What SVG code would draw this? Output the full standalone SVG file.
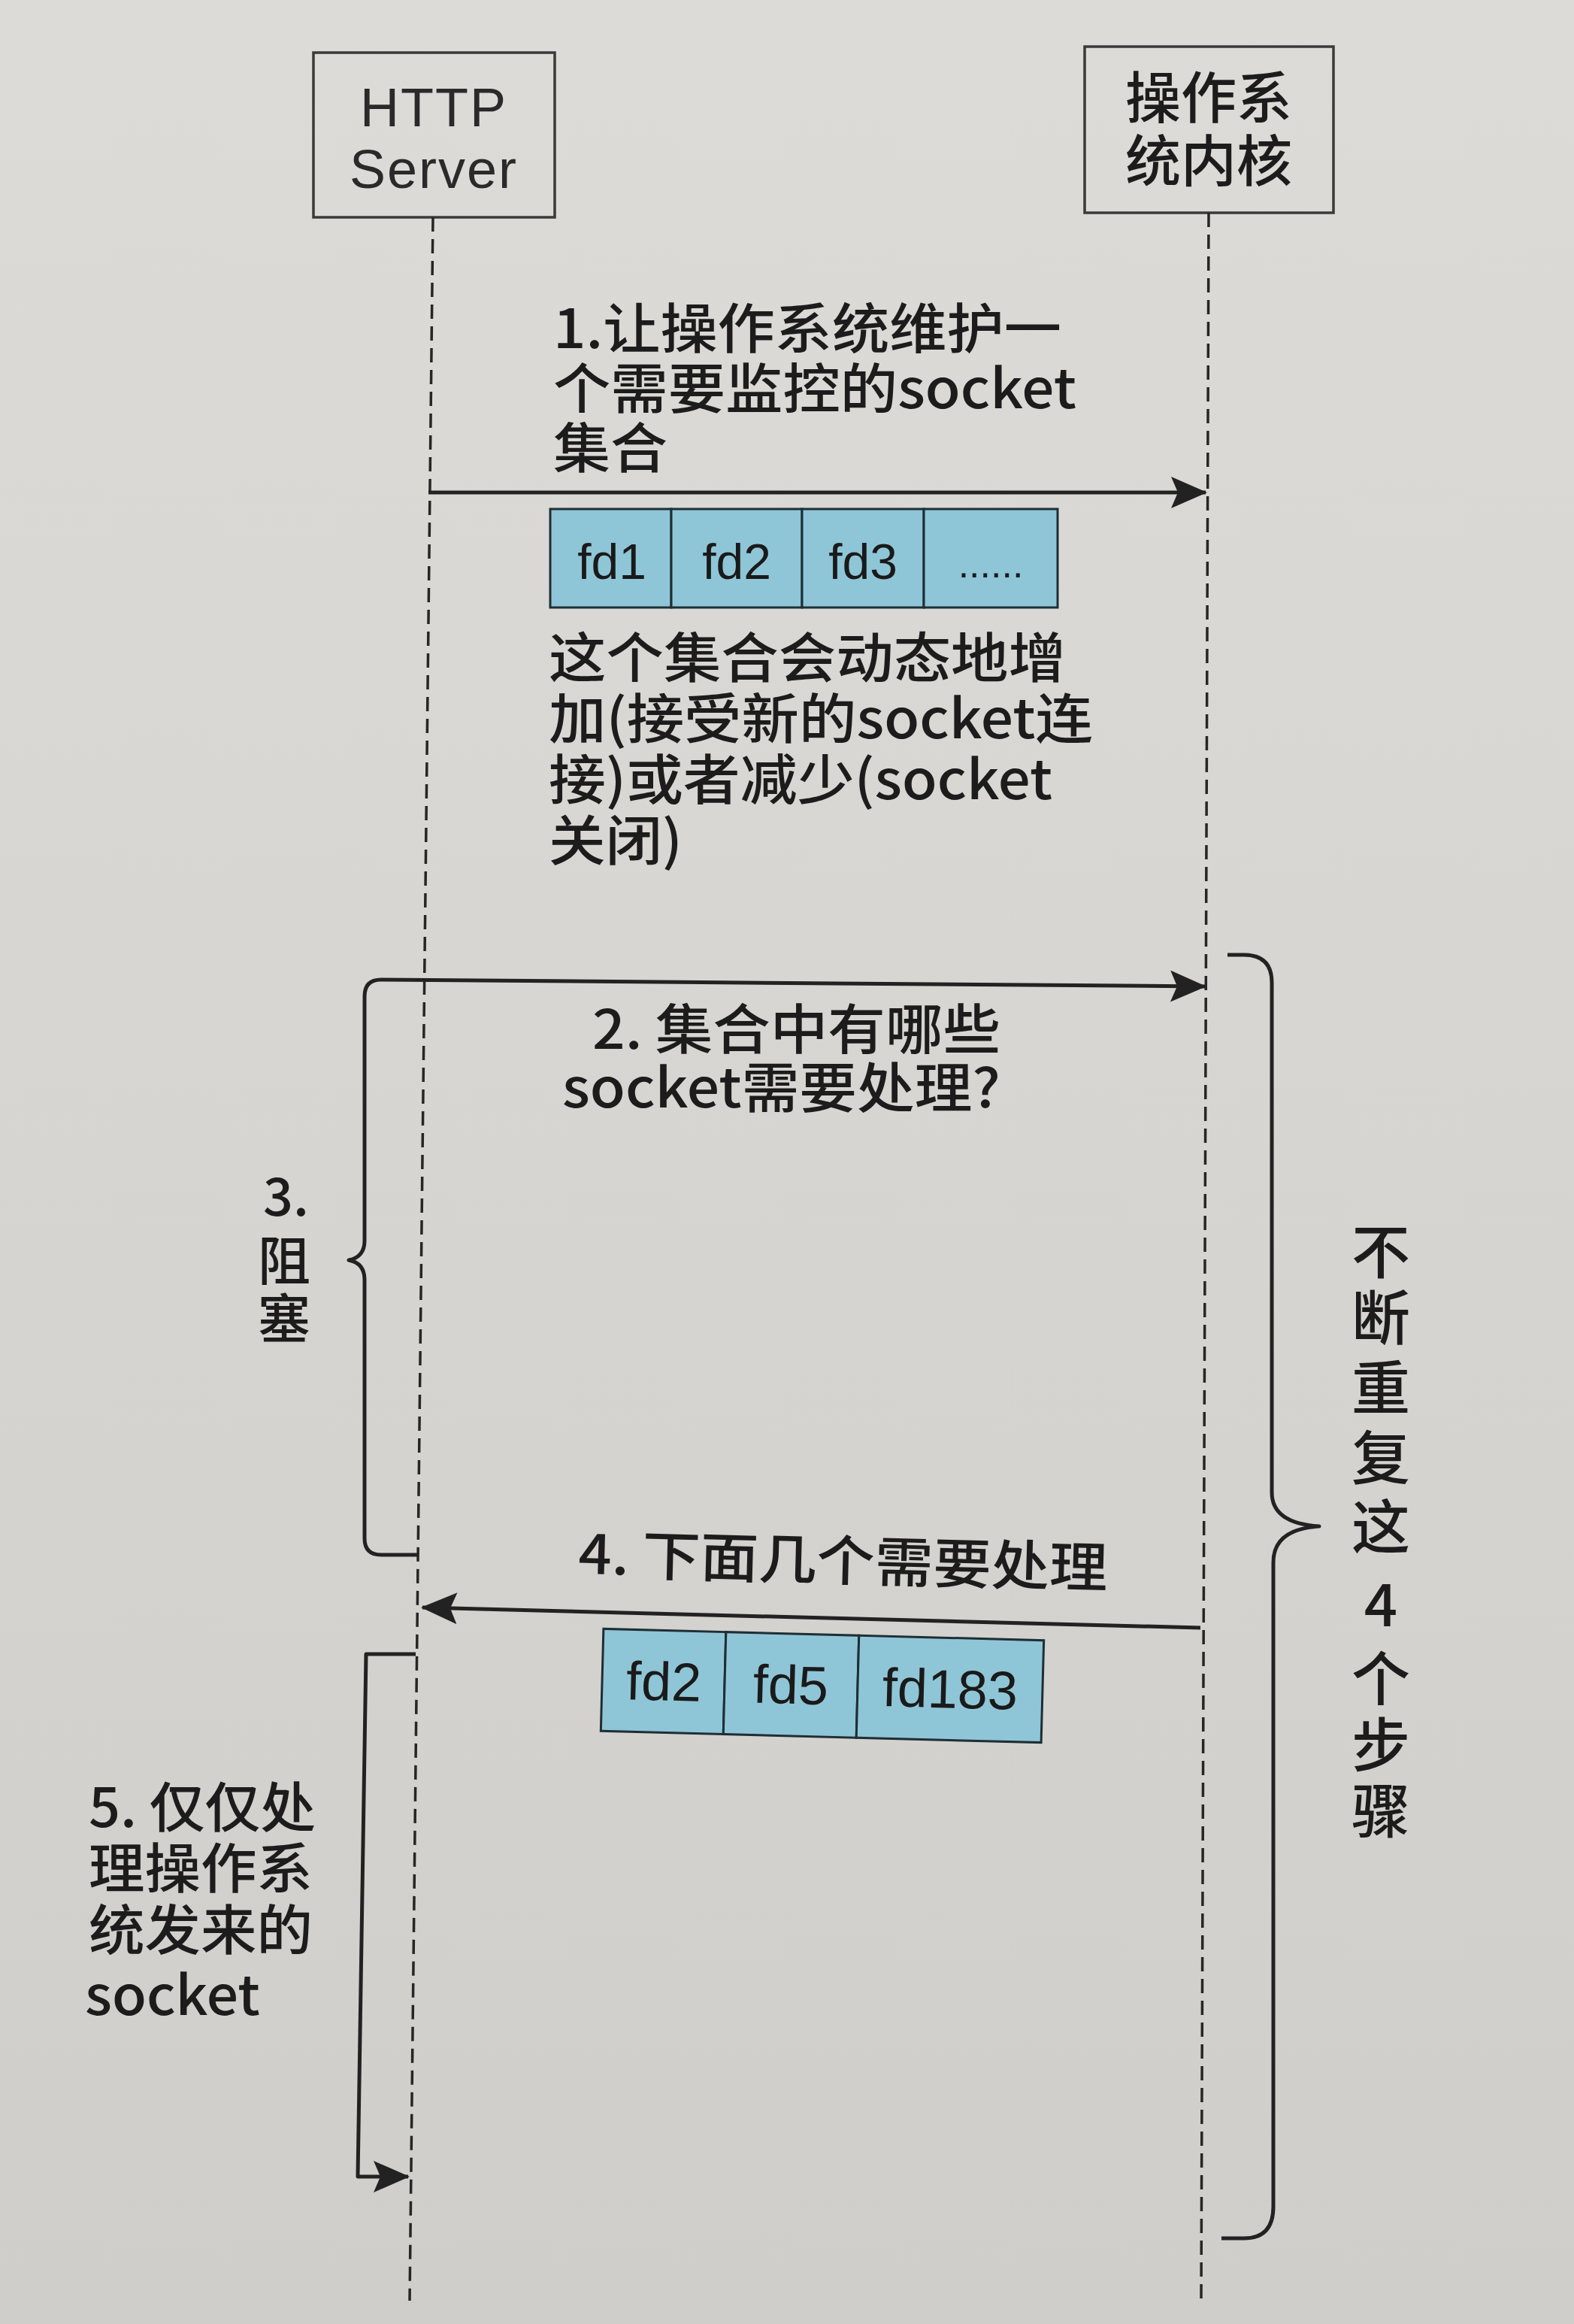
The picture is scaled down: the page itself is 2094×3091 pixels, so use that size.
<svg xmlns="http://www.w3.org/2000/svg" width="2094" height="3091" viewBox="0 0 2094 3091">
  <defs>
    <linearGradient id="paper" x1="0" y1="0" x2="0" y2="1">
      <stop offset="0" stop-color="#dcdbd7"/>
      <stop offset="0.5" stop-color="#d6d5d1"/>
      <stop offset="1" stop-color="#cfcecb"/>
    </linearGradient>
    <marker id="arrow" viewBox="0 0 48 42" refX="46" refY="21" markerWidth="48" markerHeight="42" markerUnits="userSpaceOnUse" orient="auto">
      <path d="M0,0 L48,21 L0,42 L9,21 Z" fill="#222"/>
    </marker>
    <style>
      .box { fill: none; stroke: #3a3a3a; stroke-width: 3.5; }
      .life { fill: none; stroke: #262626; stroke-width: 3.5; stroke-dasharray: 19 10; }
      .line { fill: none; stroke: #222; stroke-width: 5; stroke-linejoin: round; stroke-linecap: butt; }
      .cell { fill: #8fc6d7; stroke: #1f2e35; stroke-width: 3; }
      .lat { font-family: "Liberation Sans", Arial, sans-serif; fill: #2a2a2a; }
      .fd { font-family: "Liberation Sans", Arial, sans-serif; fill: #1a1a1a; text-anchor: middle; }
      .cn { font-family: "Noto Sans CJK SC", "Noto Sans", sans-serif; font-weight: 500; fill: #1c1c1c; }
    </style>
  </defs>

  <!-- page -->
  <rect x="0" y="0" width="2094" height="3091" fill="url(#paper)"/>

  <!-- participants -->
  <g id="http-server">
    <rect class="box" x="417" y="70" width="321" height="219"/>
    <text class="lat" x="577" y="168" font-size="72" letter-spacing="2" text-anchor="middle">HTTP</text>
    <text class="lat" x="577" y="250" font-size="72" letter-spacing="2" text-anchor="middle">Server</text>
  </g>
  <g id="os-kernel">
    <rect class="box" x="1443" y="62" width="331" height="221"/>
    <text class="cn" x="1608" y="157" font-size="74" text-anchor="middle" font-weight="400">操作系</text>
    <text class="cn" x="1608" y="241" font-size="74" text-anchor="middle" font-weight="400">统内核</text>
  </g>

  <!-- lifelines -->
  <g id="lifelines">
    <line class="life" x1="576" y1="289" x2="545" y2="3060"/>
    <line class="life" x1="1608" y1="283" x2="1598" y2="3060"/>
  </g>

  <!-- messages and brackets -->
  <g id="connectors">
    <!-- 1: register socket set -->
    <path class="line" d="M570,655 H1604" marker-end="url(#arrow)"/>
    <!-- 2 + 3: query, with blocking brace on the left -->
    <path class="line" d="M556,2068 H507 Q485,2068 485,2046 V1702 Q485,1680 464,1676 Q485,1672 485,1650 V1325 Q485,1303 507,1303 L1603,1312" marker-end="url(#arrow)"/>
    <!-- 4: ready list returned -->
    <path class="line" d="M1597,2165 L562,2138" marker-end="url(#arrow)"/>
    <!-- 5: handle only the returned sockets -->
    <path class="line" d="M553,2200 H487 L476,2895 H543" marker-end="url(#arrow)"/>
    <!-- repeat brace on the right -->
    <path class="line" d="M1633,1270 H1655 Q1692,1270 1692,1307 V1985 Q1692,2026 1755,2030 Q1694,2034 1694,2078 V2935 Q1694,2977 1655,2977 H1625"/>
  </g>

  <!-- step 1 label -->
  <g id="step1">
    <text class="cn" x="736" y="463" font-size="72" textLength="676" lengthAdjust="spacingAndGlyphs">1.让操作系统维护一</text>
    <text class="cn" x="736" y="543" font-size="72" textLength="696" lengthAdjust="spacingAndGlyphs">个需要监控的socket</text>
    <text class="cn" x="736" y="622" font-size="72" textLength="152" lengthAdjust="spacingAndGlyphs">集合</text>
  </g>

  <!-- monitored set -->
  <g id="set-all">
    <rect class="cell" x="732" y="677" width="161" height="131"/>
    <rect class="cell" x="893" y="677" width="174" height="131"/>
    <rect class="cell" x="1067" y="677" width="162" height="131"/>
    <rect class="cell" x="1229" y="677" width="178" height="131"/>
    <text class="fd" x="814" y="770" font-size="66">fd1</text>
    <text class="fd" x="980" y="770" font-size="66">fd2</text>
    <text class="fd" x="1148" y="770" font-size="66">fd3</text>
    <text class="fd" x="1318" y="768" font-size="52">......</text>
  </g>

  <!-- set note -->
  <g id="set-note">
    <text class="cn" x="730" y="901" font-size="72" textLength="688" lengthAdjust="spacingAndGlyphs">这个集合会动态地增</text>
    <text class="cn" x="730" y="982" font-size="72" textLength="724" lengthAdjust="spacingAndGlyphs">加(接受新的socket连</text>
    <text class="cn" x="730" y="1063" font-size="72" textLength="670" lengthAdjust="spacingAndGlyphs">接)或者减少(socket</text>
    <text class="cn" x="730" y="1144" font-size="72" textLength="178" lengthAdjust="spacingAndGlyphs">关闭)</text>
  </g>

  <!-- step 2 label -->
  <g id="step2">
    <text class="cn" x="788" y="1395" font-size="72" textLength="543" lengthAdjust="spacingAndGlyphs">2. 集合中有哪些</text>
    <text class="cn" x="748" y="1473" font-size="72" textLength="583" lengthAdjust="spacingAndGlyphs">socket需要处理?</text>
  </g>

  <!-- step 3 label -->
  <g id="step3">
    <text class="cn" x="350" y="1617" font-size="70">3.</text>
    <text class="cn" x="378" y="1703" font-size="70" text-anchor="middle">阻</text>
    <text class="cn" x="378" y="1780" font-size="70" text-anchor="middle">塞</text>
  </g>

  <!-- step 4 label -->
  <g id="step4" transform="rotate(1.5 1120 2100)">
    <text class="cn" x="769" y="2102" font-size="72" textLength="704" lengthAdjust="spacingAndGlyphs">4. 下面几个需要处理</text>
  </g>

  <!-- ready set -->
  <g id="set-ready" transform="rotate(1.5 1094 2242)">
    <rect class="cell" x="801" y="2174" width="163" height="136"/>
    <rect class="cell" x="964" y="2174" width="177" height="136"/>
    <rect class="cell" x="1141" y="2174" width="246" height="136"/>
    <text class="fd" x="883" y="2267" font-size="72">fd2</text>
    <text class="fd" x="1052" y="2267" font-size="72">fd5</text>
    <text class="fd" x="1264" y="2267" font-size="72">fd183</text>
  </g>

  <!-- step 5 label -->
  <g id="step5">
    <text class="cn" x="118" y="2430" font-size="72" textLength="302" lengthAdjust="spacingAndGlyphs">5. 仅仅处</text>
    <text class="cn" x="118" y="2511" font-size="72" textLength="298" lengthAdjust="spacingAndGlyphs">理操作系</text>
    <text class="cn" x="118" y="2593" font-size="72" textLength="298" lengthAdjust="spacingAndGlyphs">统发来的</text>
    <text class="cn" x="113" y="2680" font-size="72" textLength="233" lengthAdjust="spacingAndGlyphs">socket</text>
  </g>

  <!-- repeat label, set vertically -->
  <g id="repeat-note">
    <text class="cn" x="1837" y="1694" font-size="78" text-anchor="middle">不</text>
    <text class="cn" x="1837" y="1782" font-size="78" text-anchor="middle">断</text>
    <text class="cn" x="1837" y="1875" font-size="78" text-anchor="middle">重</text>
    <text class="cn" x="1837" y="1968" font-size="78" text-anchor="middle">复</text>
    <text class="cn" x="1837" y="2060" font-size="78" text-anchor="middle">这</text>
    <text class="cn" x="1837" y="2163" font-size="78" text-anchor="middle">4</text>
    <text class="cn" x="1837" y="2262" font-size="78" text-anchor="middle">个</text>
    <text class="cn" x="1837" y="2350" font-size="78" text-anchor="middle">步</text>
    <text class="cn" x="1837" y="2438" font-size="78" text-anchor="middle">骤</text>
  </g>
</svg>
